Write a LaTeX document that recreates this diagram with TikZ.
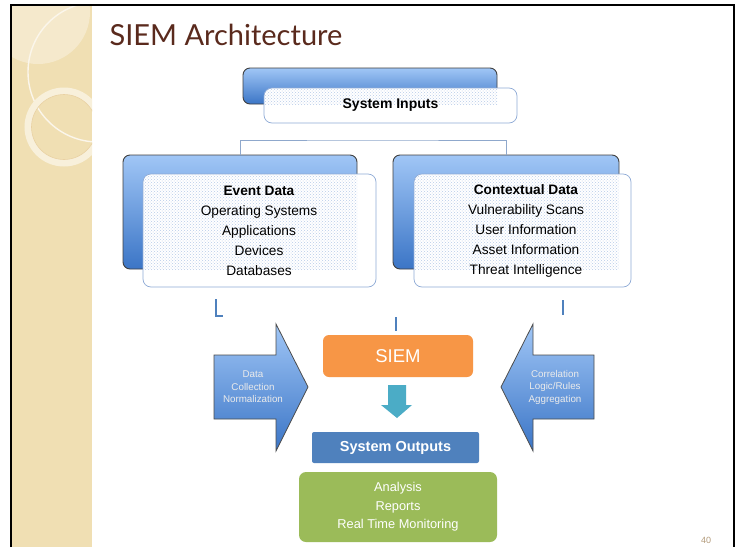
\documentclass[tikz,border=0pt]{standalone}
\usepackage{fontspec}
\setmainfont{Liberation Sans}
\newfontfamily\titlefont{Lato}
\usepackage{xcolor}
\usepackage{tikz}
\usetikzlibrary{patterns}

\definecolor{strip}{HTML}{F0DFB3}
\definecolor{stripLight}{HTML}{F5E9CC}
\definecolor{titleBrown}{HTML}{5A2A1D}
\definecolor{boxTop}{HTML}{A0C6F6}
\definecolor{boxBottom}{HTML}{3B75C6}
\definecolor{frontEdge}{HTML}{8EAAD6}
\definecolor{linkBlue}{HTML}{8FA8CC}
\definecolor{markBlue}{HTML}{4F81BD}
\definecolor{siemOrange}{HTML}{F79646}
\definecolor{downTeal}{HTML}{4BACC6}
\definecolor{outBlue}{HTML}{4F81BD}
\definecolor{outGreen}{HTML}{9BBB59}
\definecolor{pageTan}{HTML}{B49C7C}
\definecolor{dotBlue}{HTML}{B8CBE8}

\tikzset{
  backbox/.style={rectangle, rounded corners=7pt, draw=black!75, line width=0.9pt,
    top color=boxTop, bottom color=boxBottom},
  frontbox/.style={rectangle, rounded corners=8pt, draw=frontEdge, line width=0.7pt,
    fill=white, align=center, font=\fontsize{13.7}{20}\selectfont},
  link/.style={draw=linkBlue, line width=0.8pt},
  markline/.style={draw=markBlue, line width=1.3pt},
  bigarrow/.style={draw=black!70, line width=0.8pt, top color=boxTop, bottom color=boxBottom},
  arrowtext/.style={text=white!92!black, align=center, font=\fontsize{9.8}{12.5}\selectfont}
}

\begin{document}
\begin{tikzpicture}[x=1pt,y=-1pt]
  \useasboundingbox (0,0) rectangle (736,547);
  \fill[white] (0,0) rectangle (736,547);

  % left beige strip with the circles
  \fill[strip] (11,5) rectangle (92,547);
  \begin{scope}
    \clip (11,5) rectangle (92,547);
    \fill[stripLight] (38,12) circle (52);
    \draw[white!60!stripLight, line width=1.4pt] (98,72) circle (70);
    \draw[stripLight!70!white, line width=7pt] (64,127) circle (36);
    \draw[strip!85!brown, line width=0.6pt] (64,127) circle (32.5);
  \end{scope}

  % slide frame
  \draw[black, line width=2pt] (11,547) -- (11,5) -- (734,5) -- (734,547);

  % title
  \node[anchor=west, text=titleBrown, font=\titlefont\fontsize{29}{30}\selectfont]
    (title) at (106,35) {SIEM Architecture};

  % back boxes
  \node[backbox, minimum width=254pt, minimum height=36pt] (inback) at (370,86) {};
  \node[backbox, minimum width=234pt, minimum height=114pt] (evback) at (240,212) {};
  \node[backbox, minimum width=226pt, minimum height=114pt] (ctxback) at (506,212) {};

  % connectors from the inputs box
  \coordinate (split) at (372,140);
  \draw[link, double=white, double distance=1.6pt, line width=0.6pt] (372,104) -- (split);
  \draw[link] (evback.north) |- (split) -| (ctxback.north);

  % front boxes with dotted overlap
  \node[frontbox, minimum width=253pt, minimum height=35pt] (inputs) at (390.5,105.5) {};
  \begin{scope}
    \clip[rounded corners=8pt] (264,88) rectangle (517,123);
    \fill[pattern=crosshatch dots, pattern color=dotBlue] (264,88) rectangle (497,104);
  \end{scope}
  \node[font=\bfseries\fontsize{14}{16}\selectfont] at (inputs) {System Inputs};

  \node[frontbox, minimum width=233pt, minimum height=113pt] (event) at (259.5,230.5) {};
  \begin{scope}
    \clip[rounded corners=8pt] (143,174) rectangle (376,287);
    \fill[pattern=crosshatch dots, pattern color=dotBlue] (143,174) rectangle (357,269);
  \end{scope}
  \node[frontbox, draw=none, fill=none] at (259,230.5)
    {\textbf{Event Data}\\Operating Systems\\Applications\\Devices\\Databases};

  \node[frontbox, minimum width=217pt, minimum height=113pt] (context) at (522.5,230.5) {};
  \begin{scope}
    \clip[rounded corners=8pt] (414,174) rectangle (631,287);
    \fill[pattern=crosshatch dots, pattern color=dotBlue] (414,174) rectangle (619,269);
  \end{scope}
  \node[frontbox, draw=none, fill=none] at (526,230.5)
    {\textbf{Contextual Data}\\Vulnerability Scans\\User Information\\Asset Information\\Threat Intelligence};

  % small line pieces
  \coordinate (markA) at (216,299);
  \coordinate (markB) at (396,317);
  \coordinate (markC) at (563,300);
  \draw[markline] (markA) -- ++(0,17) -- ++(7,0);
  \draw[markline] (markB) -- ++(0,14);
  \draw[markline] (markC) -- ++(0,15);

  % the SIEM core
  \node[rectangle, rounded corners=6pt, fill=siemOrange, text=white,
    minimum width=150pt, minimum height=42pt, font=\fontsize{18.5}{20}\selectfont]
    (siem) at (398,356) {SIEM};
  \node[rectangle, rounded corners=2pt, fill=outBlue, text=white,
    minimum width=167pt, minimum height=31pt, font=\bfseries\fontsize{14.5}{16}\selectfont]
    (outputs) at (395.5,447.5) {System Outputs};
  \node[rectangle, rounded corners=7pt, fill=outGreen, text=white, align=center,
    minimum width=198pt, minimum height=70pt, font=\fontsize{12.8}{18.5}\selectfont]
    (results) at (398,507) {Analysis\\Reports\\Real Time Monitoring};

  % down arrow between SIEM and outputs
  \fill[downTeal] (388,385) -- (406,385) -- (406,405) -- (412,405) -- (397,418)
    -- (381,405) -- (388,405) -- cycle;

  % the two side arrows
  \path[bigarrow] (214,355) -- (276,355) -- (276,324) -- (308,387) -- (276,451)
    -- (276,419) -- (214,419) -- cycle;
  \node[arrowtext] (collect) at (253,387) {Data\\Collection\\Normalization};
  \path[bigarrow] (594,355) -- (533,355) -- (533,324) -- (501,387) -- (533,451)
    -- (533,419) -- (594,419) -- cycle;
  \node[arrowtext] (correl) at (555,387) {Correlation\\Logic/Rules\\Aggregation};

  % page number
  \node[text=pageTan, font=\fontsize{9}{10}\selectfont] (page) at (706,540) {40};
\end{tikzpicture}
\end{document}
